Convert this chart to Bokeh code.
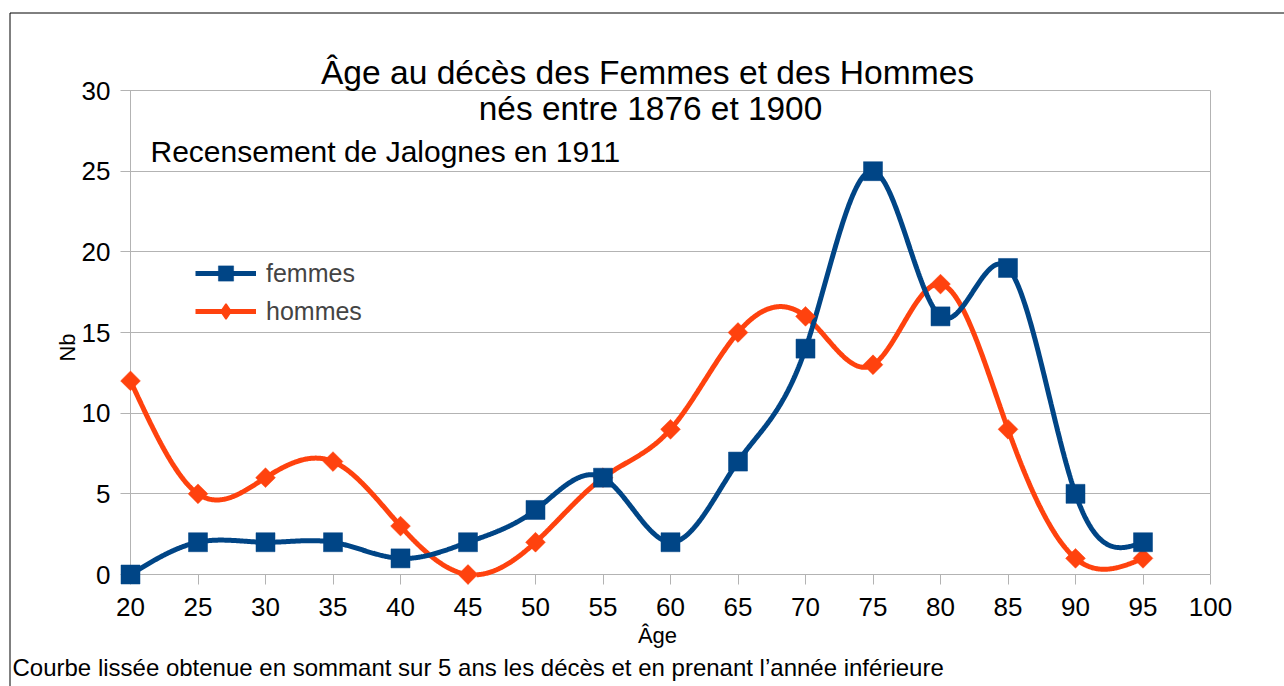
import numpy as np
from bokeh.plotting import figure
from bokeh.models import (Range1d, Label, Legend, LegendItem, BoxAnnotation,
                          FixedTicker, LinearAxis)
from bokeh.embed import file_html
from bokeh.resources import INLINE

# ---- data ----
ages = [20, 25, 30, 35, 40, 45, 50, 55, 60, 65, 70, 75, 80, 85, 90, 95]
femmes = [0, 2, 2, 2, 1, 2, 4, 6, 2, 7, 14, 25, 16, 19, 5, 2]
hommes = [12, 5, 6, 7, 3, 0, 2, 6, 9, 15, 16, 13, 18, 9, 1, 1]
x_ticks = list(range(20, 101, 5))
y_ticks = list(range(0, 31, 5))

title1 = "Âge au décès des Femmes et des Hommes"
title2 = "nés entre 1876 et 1900"
subtitle = "Recensement de Jalognes en 1911"
footer = "Courbe lissée obtenue en sommant sur 5 ans les décès et en prenant l’année inférieure"
x_label = "Âge"
y_label = "Nb"

BLUE = "#004586"
ORANGE = "#ff420e"
GRID = "#b3b3b3"
FONT = "Liberation Sans"

# ---- layout (pixels) ----
W, H = 1284, 686
PX_LEFT, PX_RIGHT = 130, 1210      # x = 20 .. 100
PX_TOP, PX_ZERO = 90, 574          # y = 30 .. 0
xmin, xmax = x_ticks[0], x_ticks[-1]
ymin, ymax = y_ticks[0], y_ticks[-1]
sx = (PX_RIGHT - PX_LEFT) / (xmax - xmin)
sy = (PX_ZERO - PX_TOP) / (ymax - ymin)
x_range = Range1d(xmin - PX_LEFT / sx, xmin + (W - PX_LEFT) / sx)
y_range = Range1d(ymin - (H - PX_ZERO) / sy, ymin + PX_ZERO / sy)


def natural_spline(x, y, n=80):
    x = np.asarray(x, float)
    y = np.asarray(y, float)
    k = len(x)
    h = np.diff(x)
    A = np.zeros((k, k))
    r = np.zeros(k)
    A[0, 0] = 1
    A[-1, -1] = 1
    for i in range(1, k - 1):
        A[i, i - 1] = h[i - 1]
        A[i, i] = 2 * (h[i - 1] + h[i])
        A[i, i + 1] = h[i]
        r[i] = 6 * ((y[i + 1] - y[i]) / h[i] - (y[i] - y[i - 1]) / h[i - 1])
    M = np.linalg.solve(A, r)
    xs, ys = [], []
    for i in range(k - 1):
        t = np.linspace(x[i], x[i + 1], n, endpoint=(i == k - 2))
        a = x[i + 1] - t
        b = t - x[i]
        s = (M[i] * a ** 3 / (6 * h[i]) + M[i + 1] * b ** 3 / (6 * h[i])
             + (y[i] / h[i] - M[i] * h[i] / 6) * a
             + (y[i + 1] / h[i] - M[i + 1] * h[i] / 6) * b)
        xs.append(t)
        ys.append(s)
    xs = np.concatenate(xs)
    ys = np.concatenate(ys)
    ys = np.where(ys < -0.02, np.nan, ys)   # plot area is clipped at 0
    return xs, ys


fx, fy = natural_spline(ages, femmes)
hx, hy = natural_spline(ages, hommes)

p = figure(width=W, height=H, x_range=x_range, y_range=y_range,
           output_backend="svg", toolbar_location=None,
           x_axis_type=None, y_axis_type=None,
           min_border_left=0, min_border_right=0,
           min_border_top=0, min_border_bottom=0)
p.outline_line_color = None
p.background_fill_color = "white"
p.border_fill_color = "white"
p.grid.visible = False

# y axis: its ticks run across the plot as the horizontal grid lines
yax = LinearAxis(fixed_location=xmin, bounds=(ymin, ymax),
                 ticker=FixedTicker(ticks=y_ticks), level="underlay",
                 axis_line_color=GRID, major_tick_line_color=GRID,
                 major_tick_out=10, major_tick_in=int(round((xmax - xmin) * sx)),
                 minor_tick_line_color=None, major_label_standoff=10,
                 major_label_text_font=FONT, major_label_text_font_size="26px",
                 major_label_text_color="black")
p.add_layout(yax, "left")

xax = LinearAxis(fixed_location=ymin, bounds=(xmin, xmax),
                 ticker=FixedTicker(ticks=x_ticks), level="underlay",
                 axis_line_color=None, major_tick_line_color=GRID,
                 major_tick_out=10, major_tick_in=0,
                 minor_tick_line_color=None, major_label_standoff=13,
                 major_label_text_font=FONT, major_label_text_font_size="26px",
                 major_label_text_color="black")
p.add_layout(xax, "below")

rax = LinearAxis(fixed_location=xmax, bounds=(ymin, ymax),
                 ticker=FixedTicker(ticks=[]), level="underlay",
                 axis_line_color=GRID, major_tick_line_color=None,
                 minor_tick_line_color=None, major_label_text_alpha=0)
p.add_layout(rax, "right")

lh = p.line(hx, hy, line_color=ORANGE, line_width=5)
lf = p.line(fx, fy, line_color=BLUE, line_width=5)
sh = p.scatter(ages, hommes, marker="square", angle=np.pi / 4, size=14,
               fill_color=ORANGE, line_color=ORANGE, line_width=0.5)
sf = p.scatter(ages, femmes, marker="square", size=19,
               fill_color=BLUE, line_color=BLUE, line_width=0.5)
# legend-only proxy for the diamond symbol (a NaN point, never drawn in the plot)
dh = p.scatter(x=[np.nan], y=[np.nan], marker="diamond",
               fill_color=ORANGE, line_color=ORANGE, line_width=1.5)

legend = Legend(items=[LegendItem(label="femmes", renderers=[lf, sf]),
                       LegendItem(label="hommes", renderers=[lh, dh])],
                location=(195, H - 330), glyph_width=61, glyph_height=38,
                label_standoff=10, spacing=0, padding=0, margin=0,
                border_line_color=None, background_fill_alpha=0,
                label_text_font=FONT, label_text_font_size="25px")
p.add_layout(legend)


def lab(x, y_pic, text, size, align="left", baseline="alphabetic", angle=0.0):
    p.add_layout(Label(x=x, y=H - y_pic, x_units="screen", y_units="screen", text=text,
                       text_align=align, text_baseline=baseline, angle=angle,
                       text_font=FONT, text_font_size=size, text_color="black"))


lab(647, 72, title1, "33.6px", align="center")
lab(650, 108, title2, "33.4px", align="center")
lab(150, 151, subtitle, "30px")
lab(12, 667, footer, "24px")
lab(657, 635, x_label, "22px", align="center")
lab(67, 347, y_label, "22px", align="center", baseline="middle", angle=np.pi / 2)

p.add_layout(BoxAnnotation(left=9.5, right=5000, top=H - 12.5, bottom=-100,
                           left_units="screen", right_units="screen",
                           top_units="screen", bottom_units="screen",
                           fill_alpha=0, line_color="black", line_alpha=1.0,
                           line_width=1))

open("out.html", "w").write(file_html(p, INLINE))
